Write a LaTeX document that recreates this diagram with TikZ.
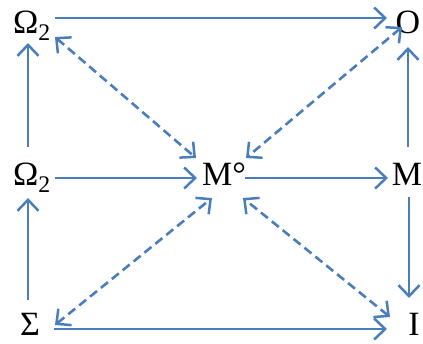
\documentclass[tikz,border=0pt]{standalone}
\usepackage{fontspec}
\setmainfont{Liberation Serif}
\usetikzlibrary{arrows.meta,positioning}
\definecolor{lineblue}{RGB}{74,126,187}

\begin{document}
\begin{tikzpicture}[x=1pt,y=-1pt,
    obj/.style={font=\fontsize{34}{40}\selectfont, inner sep=0pt, outer sep=0pt, text height=24pt, text depth=2pt},
    arr/.style={-{Straight Barb[length=11pt,width=21pt,line width=2.5pt]}, line width=2.6pt, lineblue},
    darr/.style={{Straight Barb[length=11pt,width=21pt,line width=2.5pt]}-{Straight Barb[length=11pt,width=21pt,line width=2.5pt]}, line width=2.6pt, lineblue, dash pattern=on 9pt off 5pt}
]
\useasboundingbox (0,0) rectangle (423,343);
\node[obj] (omtop) at (32,22) {Ω\textsubscript{2}};
\node[obj] (out) at (408,22) {O};
\node[obj] (ommid) at (32,174) {Ω\textsubscript{2}};
\node[obj] (mcirc) at (224,174) {M°};
\node[obj] (mm) at (407,174) {M};
\node[obj] (sig) at (30,324) {Σ};
\node[obj] (inp) at (414,324) {I};

% solid arrows
\draw[arr] ([shift={(23,-4)}]omtop.center) -- ([shift={(-21,-4)}]out.center);
\draw[arr] ([shift={(23,4)}]ommid.center) -- ([shift={(-27,4)}]mcirc.center);
\draw[arr] ([shift={(21,4)}]mcirc.center) -- ([shift={(-19,4)}]mm.center);
\draw[arr] ([shift={(24,5)}]sig.center) -- ([shift={(-27,5)}]inp.center);
\draw[arr] ([shift={(-4,-27)}]ommid.center) -- ([shift={(-4,21)}]omtop.center);
\draw[arr] ([shift={(-2,-24)}]sig.center) -- ([shift={(-4,24)}]ommid.center);
\draw[arr] ([shift={(1,-27)}]mm.center) -- ([shift={(0,25)}]out.center);
\draw[arr] ([shift={(2,23)}]mm.center) -- ([shift={(-5,-26)}]inp.center);

% dashed two-way arrows
\draw[darr] ([shift={(23,15)}]omtop.center) -- ([shift={(-28,-16)}]mcirc.center);
\draw[darr] ([shift={(-6,5)}]out.center) -- ([shift={(22,-16)}]mcirc.center);
\draw[darr] ([shift={(25,1)}]sig.center) -- ([shift={(-12,24)}]mcirc.center);
\draw[darr] ([shift={(-24,-7)}]inp.center) -- ([shift={(19,24)}]mcirc.center);
\end{tikzpicture}
\end{document}
